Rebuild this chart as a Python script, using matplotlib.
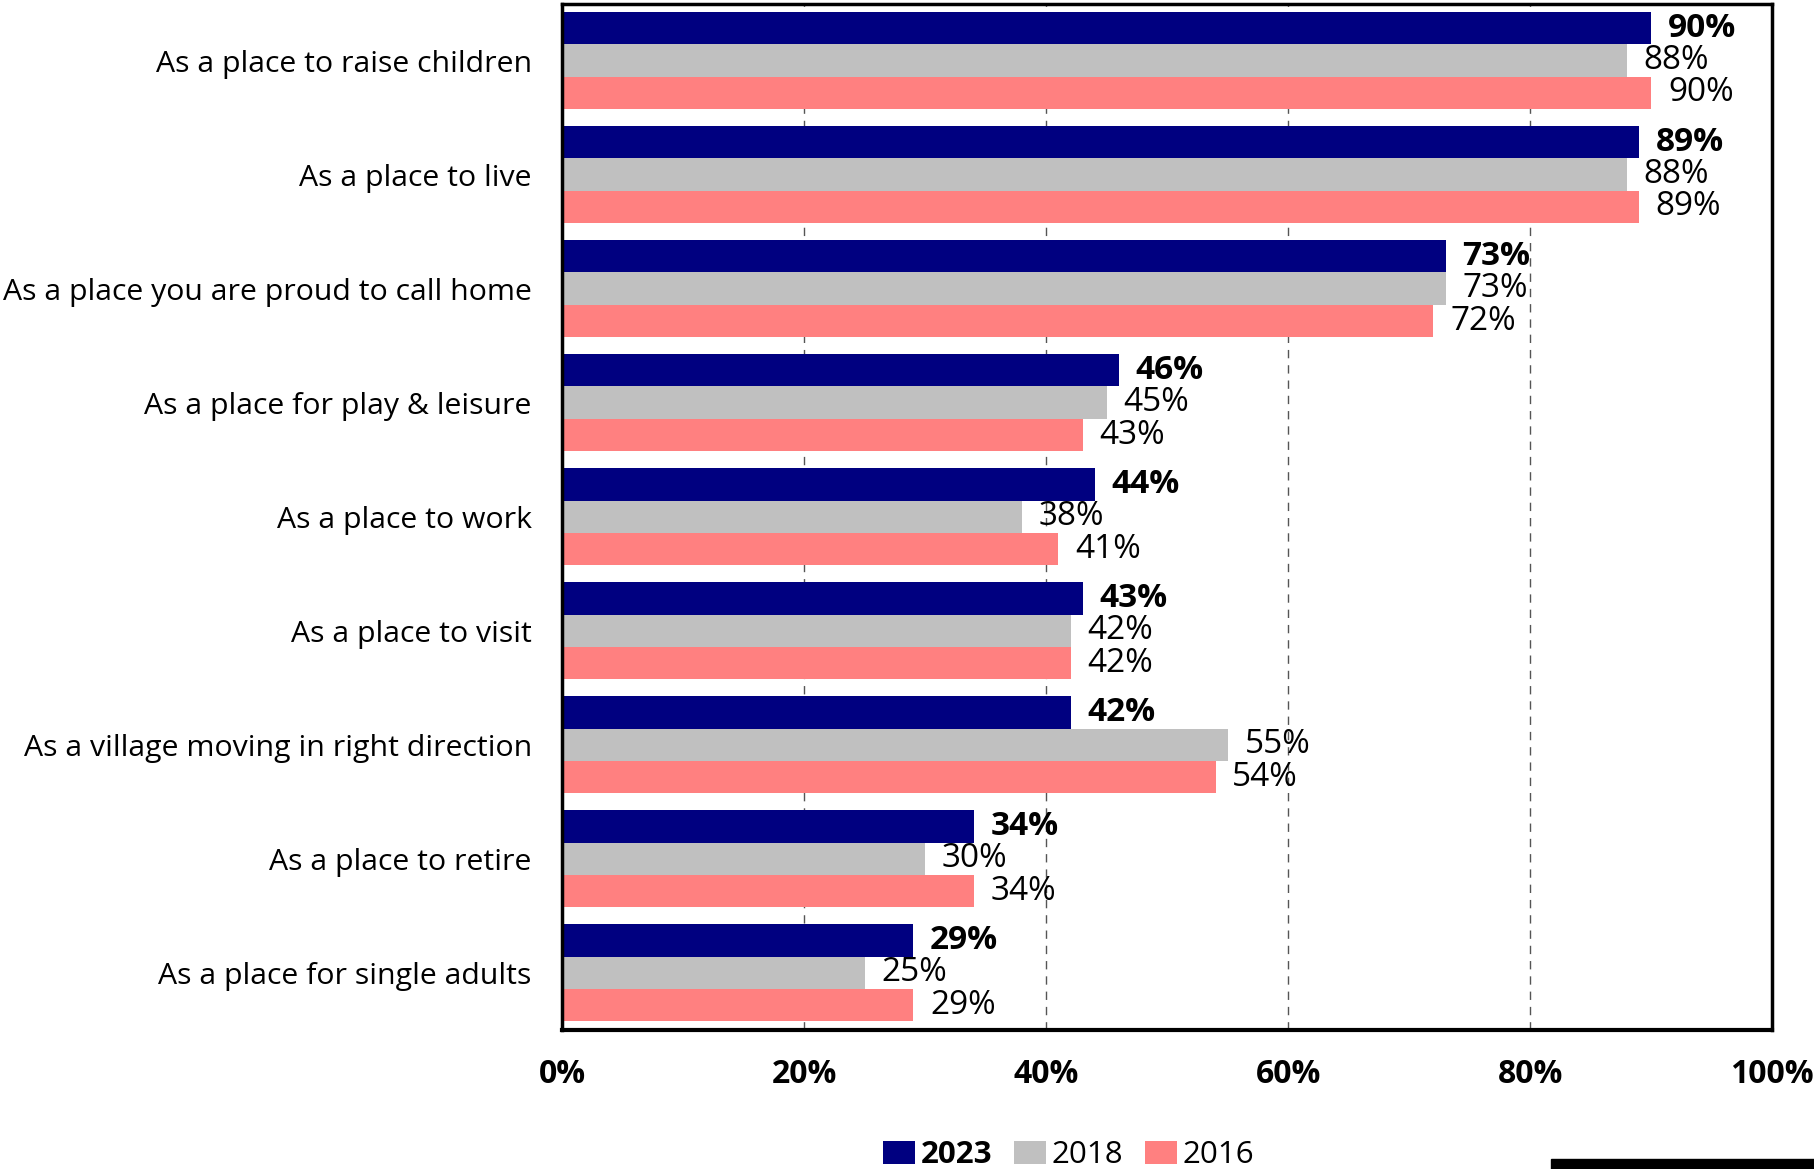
import matplotlib.pyplot as plt
import matplotlib.patches as mpatches
import numpy as np

categories = [
    'As a place to raise children',
    'As a place to live',
    'As a place you are proud to call home',
    'As a place for play & leisure',
    'As a place to work',
    'As a place to visit',
    'As a village moving in right direction',
    'As a place to retire',
    'As a place for single adults',
]
vals_2023 = [90, 89, 73, 46, 44, 43, 42, 34, 29]
vals_2018 = [88, 88, 73, 45, 38, 42, 55, 30, 25]
vals_2016 = [90, 89, 72, 43, 41, 42, 54, 34, 29]
years = ['2023', '2018', '2016']
colors = ['#000080', '#C0C0C0', '#FF8080']

plt.rcParams['font.family'] = ['Open Sans', 'DejaVu Sans']

fig = plt.figure(figsize=(18.14, 11.69), dpi=100)
ax = fig.add_axes([0.310, 0.119, 0.667, 0.878])

y = np.arange(len(categories))
h = 0.284
series = [vals_2023, vals_2018, vals_2016]
for i, (vals, col, yr) in enumerate(zip(series, colors, years)):
    pos = y + (i - 1) * h
    ax.barh(pos, vals, height=h, color=col, label=yr, zorder=2)
    for p, v in zip(pos, vals):
        ax.annotate(f'{v}%', (v, p), xytext=(12, 0), textcoords='offset points',
                    va='center', ha='left', fontsize=24,
                    fontweight='bold' if i == 0 else 'normal')

ax.set_xlim(0, 100)
ax.set_ylim(len(categories) - 0.5, -0.5)
ax.set_yticks(y)
ax.set_yticklabels(categories, fontsize=21.8)
ax.set_xticks(np.arange(0, 101, 20))
ax.set_xticklabels([f'{t}%' for t in range(0, 101, 20)], fontsize=23, fontweight='bold')
ax.tick_params(axis='y', length=0, pad=22)
ax.tick_params(axis='x', length=0, pad=20)
ax.xaxis.grid(True, linestyle=(0, (6, 5)), color='#555555', linewidth=1, zorder=0)
ax.set_axisbelow(True)
for side in ['left', 'top', 'right']:
    ax.spines[side].set_linewidth(2.5)
ax.spines['bottom'].set_linewidth(3)

leg = ax.legend(loc='center', bbox_to_anchor=(1069 / 1814, 1 - 1155 / 1169),
                bbox_transform=fig.transFigure, ncol=3, frameon=False,
                fontsize=22.5, handlelength=1.0, handleheight=0.75,
                handletextpad=0.2, columnspacing=0.7)
leg.get_texts()[0].set_fontweight('bold')

# black strip in the bottom-right corner
fig.patches.append(mpatches.Rectangle((1551 / 1814, 0), 1 - 1551 / 1814, 10 / 1169,
                                      transform=fig.transFigure, color='black'))

fig.savefig('out.png', dpi=100)
